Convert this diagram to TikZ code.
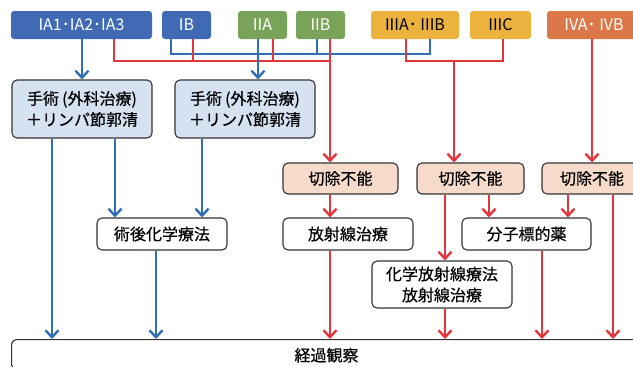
\documentclass[tikz,border=0pt]{standalone}
\usepackage{fontspec}
\setmainfont{Noto Sans CJK JP}
\newfontfamily\jpm{Noto Sans CJK JP}[FakeBold=0.5]
\usetikzlibrary{arrows.meta}
\definecolor{topblue}{HTML}{406BB4}
\definecolor{topgreen}{HTML}{7AA35A}
\definecolor{topyellow}{HTML}{EBB23E}
\definecolor{toporange}{HTML}{DB7748}
\definecolor{lblue}{HTML}{2E6EB7}
\definecolor{lred}{HTML}{E5353A}
\definecolor{fillblue}{HTML}{D6E2F2}
\definecolor{fillsalmon}{HTML}{F6DACA}
\definecolor{bordergray}{HTML}{333333}
\tikzset{
  topbox/.style={rounded corners=3pt, minimum height=28pt, inner sep=0pt, font=\fontsize{16}{18}\selectfont},
  flowbox/.style={draw=bordergray, line width=1.1pt, rounded corners=5pt, inner sep=0pt, align=center, font=\jpm\fontsize{16}{21}\selectfont},
  bl/.style={draw=lblue, line width=2.4pt},
  rd/.style={draw=lred, line width=2.4pt},
  tip/.style={-{Straight Barb[length=7pt,width=13pt]}}
}
\begin{document}
\begin{tikzpicture}[x=1pt,y=-1pt]
\useasboundingbox (0,0) rectangle (633,367);
% top row
\node[topbox, fill=topblue, text=white, minimum width=141pt] (ia) at (81.5,25) {IA1･IA2･IA3};
\node[topbox, fill=topblue, text=white, minimum width=49pt] (ib) at (186.5,25) {IB};
\node[topbox, fill=topgreen, text=white, minimum width=49pt] (iia) at (262.5,25) {IIA};
\node[topbox, fill=topgreen, text=white, minimum width=49pt] (iib) at (320.5,25) {IIB};
\node[topbox, fill=topyellow, text=black, minimum width=88pt] (iii) at (415,25) {IIIA･ IIIB};
\node[topbox, fill=topyellow, text=black, minimum width=61pt] (iiic) at (500.5,25) {IIIC};
\node[topbox, fill=toporange, text=white, minimum width=94pt] (iv) at (594,25) {IVA･ IVB};
% second row
\node[flowbox, fill=fillblue, minimum width=140pt, minimum height=58pt] (s1) at (82,109) {手術\hspace{3pt}(外科治療)\\＋リンパ節郭清};
\node[flowbox, fill=fillblue, minimum width=140pt, minimum height=58pt] (s2) at (245,109) {手術\hspace{3pt}(外科治療)\\＋リンパ節郭清};
\node[flowbox, fill=fillsalmon, minimum width=115pt, minimum height=31pt] (k1) at (340.5,178.5) {切除不能};
\node[flowbox, fill=fillsalmon, minimum width=107pt, minimum height=31pt] (k2) at (470.5,178.5) {切除不能};
\node[flowbox, fill=fillsalmon, minimum width=100pt, minimum height=31pt] (k3) at (592,178.5) {切除不能};
\node[flowbox, fill=white, minimum width=130pt, minimum height=32pt] (post) at (162,234) {術後化学療法};
\node[flowbox, fill=white, minimum width=130pt, minimum height=32pt] (rad) at (348,234) {放射線治療};
\node[flowbox, fill=white, minimum width=129pt, minimum height=32pt] (mol) at (526.5,234) {分子標的薬};
\node[flowbox, fill=white, minimum width=140pt, minimum height=47pt] (chem) at (442,284.5) {化学放射線療法\\放射線治療};
\node[flowbox, fill=white, minimum width=630pt, minimum height=30pt, anchor=north west, text depth=0pt] (obs) at (11,339) {経過観察};
% x positions
\foreach \n/\x in {a52/52,a82/82,a114/114,a115/115,a156/156,a171/171,a193/193,a202/202,a258/258,a273/273,a317/317,a330/330,a406/406,a430/430,a445/445,a454/454,a489/489,a503/503,a542/542,a568/568,a592/592,a613/613}
  \coordinate (\n) at (\x,0);
\coordinate (yb) at (0,54);
\coordinate (yr) at (0,61);
% blue connectors from top
\draw[bl] (ib.south -| a171) |- (yb -| a430) -- (iii.south -| a430);
\draw[bl] (iib.south -| a317) -- (yb -| a317);
% red connectors from top
\draw[rd] (ia.south -| a114) |- (yr -| a330);
\draw[rd] (ib.south -| a193) -- (yr -| a193);
\draw[rd] (iia.south -| a273) -- (yr -| a273);
\draw[rd] (iii.south -| a406) |- (yr -| a503) -- (iiic.south -| a503);
\draw[rd, tip] (iib.south -| a330) -- (k1.north -| a330);
\draw[rd, tip] (yr -| a454) -- (k2.north -| a454);
\draw[rd, tip] (iv.south -| a592) -- (k3.north -| a592);
% blue arrows
\draw[bl, tip] (ia.south -| a82) -- (s1.north -| a82);
\draw[bl, tip] (iia.south -| a258) -- (s2.north -| a258);
\draw[bl, tip] (s1.south -| a52) -- (obs.north -| a52);
\draw[bl, tip] (s1.south -| a115) -- (post.north -| a115);
\draw[bl, tip] (s2.south -| a202) -- (post.north -| a202);
\draw[bl, tip] (post.south -| a156) -- (obs.north -| a156);
% red arrows
\draw[rd, tip] (k1.south -| a330) -- (rad.north -| a330);
\draw[rd, tip] (rad.south -| a330) -- (obs.north -| a330);
\draw[rd, tip] (k2.south -| a445) -- (chem.north -| a445);
\draw[rd, tip] (chem.south -| a445) -- (obs.north -| a445);
\draw[rd, tip] (k2.south -| a489) -- (mol.north -| a489);
\draw[rd, tip] (k3.south -| a568) -- (mol.north -| a568);
\draw[rd, tip] (mol.south -| a542) -- (obs.north -| a542);
\draw[rd, tip] (k3.south -| a613) -- (obs.north -| a613);
\end{tikzpicture}
\end{document}
